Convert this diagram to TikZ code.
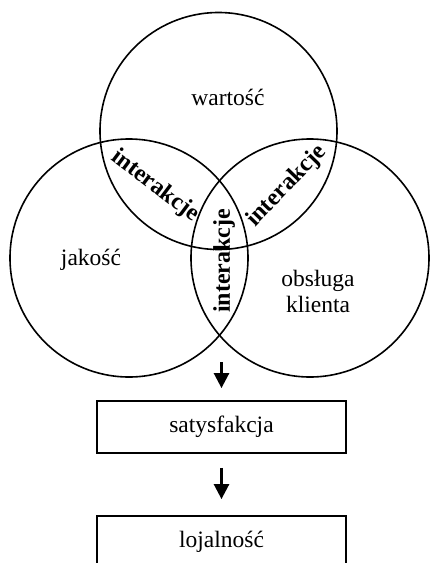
\documentclass[tikz,border=0pt]{standalone}
\usepackage{fontspec}
\setmainfont{Liberation Serif}
\usetikzlibrary{arrows.meta}
\tikzset{
  ring/.style={draw, circle, line width=1.6pt, inner sep=0pt, minimum size=#1},
  lbl/.style={font=\fontsize{23.5}{26}\selectfont, align=center, inner sep=1pt},
  inter/.style={font=\fontsize{24}{26}\selectfont\bfseries, inner sep=0pt},
  box/.style={draw, line width=1.8pt, minimum width=249pt, minimum height=52pt, font=\fontsize{23.5}{26}\selectfont},
  flow/.style={-{Triangle[width=15pt, length=15pt]}, line width=2.6pt}
}

\begin{document}
\begin{tikzpicture}[x=1pt, y=-1pt]
  \useasboundingbox (0,0) rectangle (430,563);
  \clip (0,0) rectangle (430,563);
  % three circles
  \node[ring=237pt] (top) at (218.5,131) {};
  \node[ring=238pt] (left) at (129,258) {};
  \node[ring=238pt] (right) at (310,258) {};
  \coordinate (lens) at (221.5,332);
  \node[lbl] (value) at (228,97) {wartość};
  \node[lbl] (quality) at (91,260) {jakość};
  \node[lbl] (service) at (318,291) {obsługa\\klienta};
  \node[inter, rotate=-37] (intl) at (155,186) {interakcje};
  \node[inter, rotate=46] (intr) at (287,186) {interakcje};
  \node[inter, rotate=90] (intm) at (224,261) {interakcje};
  % flow below
  \node[box] (sat) at (221.5,427) {satysfakcja};
  \node[box] (loyal) at (221.5,542) {lojalność};
  \draw[flow, shorten <=30pt, shorten >=12pt] (lens) -- (sat.north);
  \draw[flow, shorten <=14pt, shorten >=16pt] (sat.south) -- (loyal.north);
\end{tikzpicture}
\end{document}
